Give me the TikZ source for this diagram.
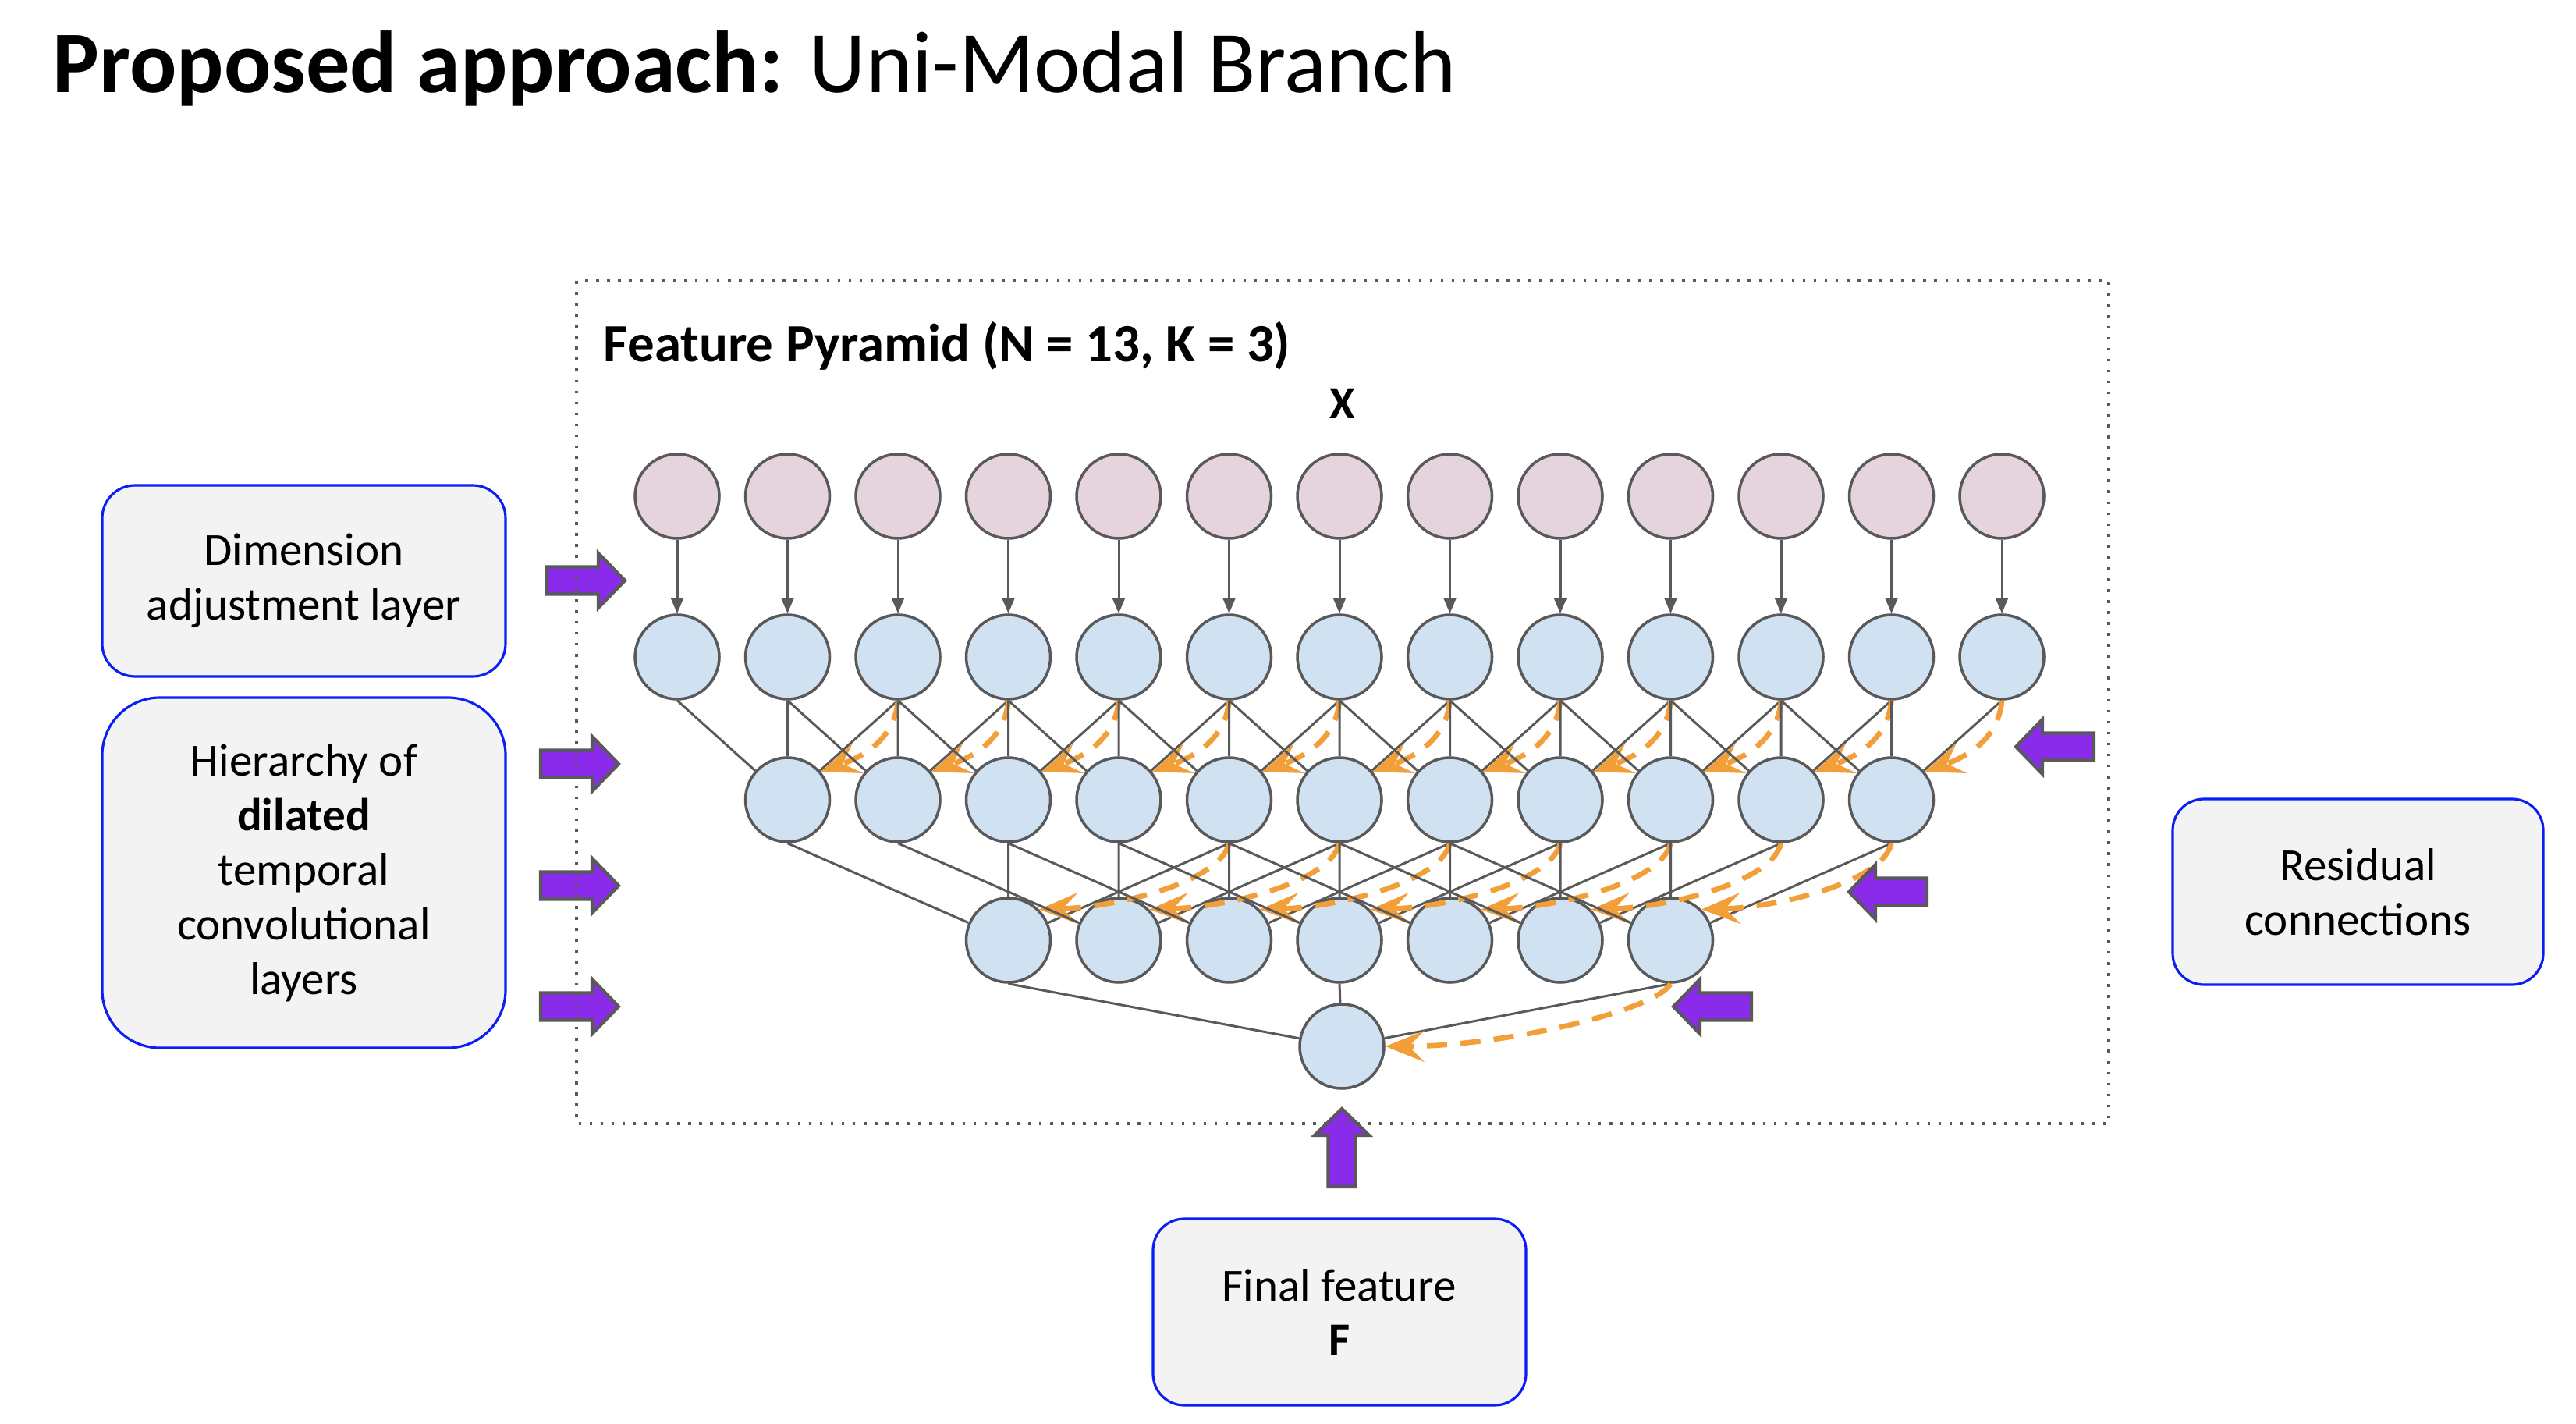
\documentclass[tikz,border=0pt]{standalone}
\usepackage{fontspec}
\setmainfont{Carlito}
\usepackage{tikz}
\usetikzlibrary{arrows.meta, calc, positioning}
\definecolor{cgrey}{HTML}{595959}
\definecolor{corange}{HTML}{F29F3A}
\definecolor{cpurple}{HTML}{8A2BEB}
\definecolor{xpink}{HTML}{E5D3DE}
\definecolor{fblue}{HTML}{D0E1F1}
\definecolor{boxfill}{HTML}{F3F3F3}
\definecolor{boxline}{HTML}{0A1EF5}
\tikzset{
  xball/.style    = {circle, draw=cgrey, fill=xpink, line width=1pt,
                     minimum size=1.08cm, inner sep=0pt},
  fball/.style    = {xball, fill=fblue},
  lnk/.style      = {draw=cgrey, line width=0.85pt},
  dimarr/.style   = {lnk, -{Triangle[length=0.2cm, width=0.16cm]}},
  resarr/.style   = {draw=corange, line width=1.9pt, dash pattern=on 0.26cm off 0.17cm,
                     -{Stealth[length=0.5cm, width=0.4cm, inset=0.2cm]}},
  notebox/.style  = {draw=boxline, fill=boxfill, line width=0.9pt, align=center,
                     font=\fontsize{16.8}{19.9}\selectfont},
  fatarr/.style   = {draw=cgrey, fill=cpurple, line width=1.2pt, line join=miter},
  pyrframe/.style = {draw=cgrey, line width=1pt, dash pattern=on 1pt off 3pt},
}
\newcommand{\fatarrow}[2]{% tip point, direction
  \begin{scope}[shift={(#1)}, rotate=#2]
    \draw[fatarr] (0,0) -- (-0.34,0.35) -- (-0.34,0.175) -- (-1.0,0.175)
      -- (-1.0,-0.175) -- (-0.34,-0.175) -- (-0.34,-0.35) -- cycle;
  \end{scope}}

\begin{document}
\begin{tikzpicture}[x=1cm, y=1cm]
  \useasboundingbox (0,0) rectangle (33.02,-18.25);
  \node[anchor=base west, inner sep=0pt, font=\fontsize{32}{38}\selectfont] (ttl)
    at (0.67,-1.19) {\textbf{Proposed approach:} Uni-Modal Branch};
  \node[anchor=base west, inner sep=0pt, font=\fontsize{19.6}{23}\selectfont\bfseries] (fpt)
    at (7.73,-4.64) {Feature Pyramid (N = 13, K = 3)};
  \node[anchor=base, inner sep=0pt, font=\fontsize{16.8}{20}\selectfont\bfseries] (xlab)
    at (17.21,-5.37) {X};
  % pyramid levels
  \foreach \j in {0,...,12} {
    \node[xball] (x\j) at ({8.68+1.415*\j},-6.36) {};
    \node[fball] (a\j) at ({8.68+1.415*\j},-8.42) {};
    \draw[dimarr] (x\j.south) -- (a\j.north);
  }
  \foreach \j in {1,...,11}
    \node[fball] (b\j) at ({8.68+1.415*\j},-10.25) {};
  \foreach \j in {3,...,9}
    \node[fball] (c\j) at ({8.68+1.415*\j},-12.05) {};
  \node[fball] (fin) at (17.20,-13.41) {};
  % kernel links and residuals
  \foreach \j in {1,...,11} {
    \pgfmathtruncatemacro{\jl}{\j-1}
    \pgfmathtruncatemacro{\jr}{\j+1}
    \draw[lnk] (a\jl.south) -- (b\j) (a\j.south) -- (b\j) (a\jr.south) -- (b\j);
    \draw[resarr] (a\jr.south) to[out=-95, in=20] (b\j.40);
  }
  \foreach \j in {3,...,9} {
    \pgfmathtruncatemacro{\jl}{\j-2}
    \pgfmathtruncatemacro{\jr}{\j+2}
    \draw[lnk] (b\jl.south) -- (c\j) (b\j.south) -- (c\j) (b\jr.south) -- (c\j);
    \draw[resarr] (b\jr.south) .. controls +(-0.12,-0.5) and +(1.0,0.03) .. (c\j.45);
  }
  \draw[lnk] (c3.south) -- (fin) (c6.south) -- (fin) (c9.south) -- (fin);
  \draw[resarr] (c9.south) .. controls +(-0.2,-0.35) and +(1.5,0) .. (fin.east);
  % side notes
  \node[notebox, rounded corners=0.42cm, minimum width=5.17cm, minimum height=2.45cm] (dimbox)
    at (3.895,-7.445) {Dimension\\adjustment layer};
  \node[notebox, rounded corners=0.74cm, minimum width=5.17cm, minimum height=4.49cm] (hierbox)
    at (3.895,-11.185) {Hierarchy of\\\textbf{dilated}\\temporal\\convolutional\\layers};
  \node[notebox, rounded corners=0.4cm, minimum width=4.75cm, minimum height=2.38cm] (resbox)
    at (30.225,-11.43) {Residual\\connections};
  \node[notebox, rounded corners=0.4cm, minimum width=4.78cm, minimum height=2.39cm] (finbox)
    at (17.17,-16.815) {Final feature\\\textbf{F}};
  \fatarrow{8.01,-7.44}{0}
  \fatarrow{7.93,-9.79}{0}
  \fatarrow{7.93,-11.35}{0}
  \fatarrow{7.93,-12.90}{0}
  \fatarrow{25.84,-9.57}{180}
  \fatarrow{23.70,-11.43}{180}
  \fatarrow{21.45,-12.90}{180}
  \fatarrow{17.20,-14.21}{90}
  \draw[pyrframe] (7.39,-3.60) rectangle (27.03,-14.40);
\end{tikzpicture}
\end{document}
